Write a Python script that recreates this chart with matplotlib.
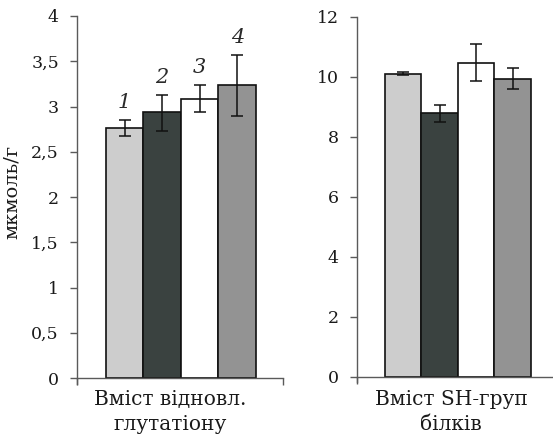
import matplotlib
matplotlib.use("Agg")
import matplotlib.pyplot as plt
from matplotlib.ticker import FuncFormatter

groups = ["1", "2", "3", "4"]
colors = ["#cdcdcd", "#3a4240", "#ffffff", "#939393"]

gsh_vals = [2.76, 2.935, 3.086, 3.234]
gsh_err_lo = [0.09, 0.20, 0.15, 0.34]
gsh_err_hi = [0.09, 0.19, 0.15, 0.34]

sh_vals = [10.1, 8.78, 10.47, 9.93]
sh_err_lo = [0.04, 0.30, 0.61, 0.33]
sh_err_hi = [0.04, 0.29, 0.62, 0.37]

gsh_label = ["Вміст відновл.", "глутатіону"]
sh_label = ["Вміст SH-груп", "білків"]
ylabel = "мкмоль/г"

plt.rcParams['font.family'] = ['DejaVu Serif']

W, H = 553, 434
fig = plt.figure(figsize=(W / 100, H / 100), dpi=100)

spine_col = "#5a5a5a"
text_col = "#1a1a1a"


def make_axes(rect):
    ax = fig.add_axes(rect)
    for s in ["top", "right"]:
        ax.spines[s].set_visible(False)
    for s in ["left", "bottom"]:
        ax.spines[s].set_color(spine_col)
        ax.spines[s].set_linewidth(1.0)
    return ax


def fmt(v, pos):
    return ("%g" % v).replace(".", ",")


x = list(range(len(groups)))

# Left panel
axL = make_axes([77 / W, (H - 383.5) / H, 206 / W, (383.5 - 16) / H])
axL.bar(x, gsh_vals, width=1.0, color=colors, edgecolor="#111111", linewidth=1.2,
        yerr=[gsh_err_lo, gsh_err_hi], ecolor="#111111",
        error_kw=dict(elinewidth=1.1, capsize=4, capthick=1.1), zorder=2)
axL.set_xlim(-1.27, 4.22)
axL.set_ylim(-0.06, 4)
axL.spines["bottom"].set_position(("data", 0))
axL.spines["left"].set_bounds(-0.06, 4)
axL.set_yticks([0, 0.5, 1, 1.5, 2, 2.5, 3, 3.5, 4])
axL.yaxis.set_major_formatter(FuncFormatter(fmt))
axL.set_xticks([-1.27, 4.22])
axL.set_xticklabels(["", ""])
axL.tick_params(axis="y", direction="out", length=5, width=1, color=spine_col,
                labelsize=12.5, pad=8, labelcolor=text_col)
axL.tick_params(axis="x", direction="out", length=5, width=1, color=spine_col)
axL.set_ylabel(ylabel, fontsize=14, color=text_col)
axL.yaxis.set_label_coords((21 - 77) / 206, 0.52)
for i, g in enumerate(groups):
    top = gsh_vals[i] + gsh_err_hi[i]
    axL.annotate(g, (x[i], top), xytext=(0, 12.5), textcoords="offset points",
                 ha="center", va="center", fontsize=15, style="italic",
                 color="#2a2a2a")

# Right panel
axR = make_axes([357 / W, (H - 382) / H, 196 / W, (382 - 16.7) / H])
axR.bar(x, sh_vals, width=1.0, color=colors, edgecolor="#111111", linewidth=1.2,
        yerr=[sh_err_lo, sh_err_hi], ecolor="#111111",
        error_kw=dict(elinewidth=1.1, capsize=4, capthick=1.1), zorder=2)
axR.set_xlim(-1.26, 4.1)
axR.set_ylim(-0.18, 12)
axR.spines["bottom"].set_position(("data", 0))
axR.spines["left"].set_bounds(-0.18, 12)
axR.set_yticks([0, 2, 4, 6, 8, 10, 12])
axR.set_xticks([-1.26])
axR.set_xticklabels([""])
axR.tick_params(axis="y", direction="out", length=5, width=1, color=spine_col,
                labelsize=12.5, pad=8, labelcolor=text_col)
axR.tick_params(axis="x", direction="out", length=5, width=1, color=spine_col)

for cx, lines in [(170, gsh_label), (451, sh_label)]:
    fig.text(cx / W, 1 - 405 / H, lines[0], ha="center", va="baseline",
             fontsize=14.5, color=text_col)
    fig.text(cx / W, 1 - 430 / H, lines[1], ha="center", va="baseline",
             fontsize=14.5, color=text_col)

fig.savefig("out.png", dpi=100)
